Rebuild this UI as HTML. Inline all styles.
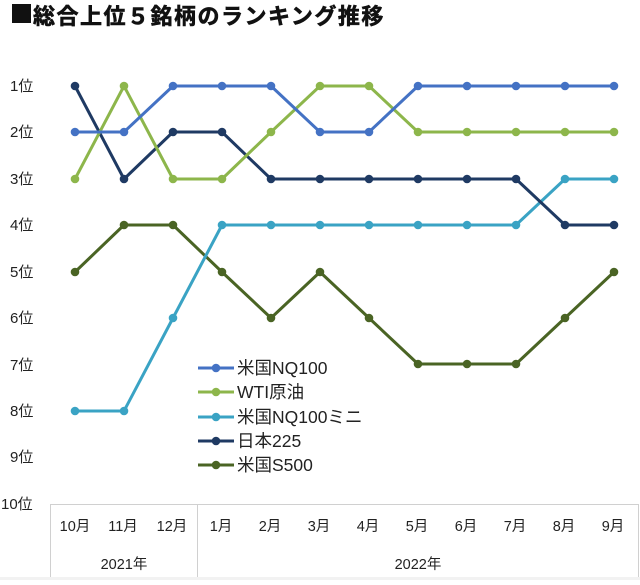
<!DOCTYPE html>
<html><head><meta charset="utf-8"><style>
body{margin:0;background:#fff;width:640px;height:580px;overflow:hidden;font-family:"Liberation Sans","Noto Sans CJK JP",sans-serif}
</style></head><body>
<svg width="640" height="580" xmlns="http://www.w3.org/2000/svg" font-family="Liberation Sans, Noto Sans CJK JP, sans-serif">
<defs>
<marker id="m1" markerWidth="10" markerHeight="10" refX="5" refY="5" markerUnits="userSpaceOnUse"><circle cx="5" cy="5" r="4.3" fill="#4472C4"/></marker>
<marker id="m2" markerWidth="10" markerHeight="10" refX="5" refY="5" markerUnits="userSpaceOnUse"><circle cx="5" cy="5" r="4.3" fill="#8DB64B"/></marker>
<marker id="m3" markerWidth="10" markerHeight="10" refX="5" refY="5" markerUnits="userSpaceOnUse"><circle cx="5" cy="5" r="4.3" fill="#3AA3C4"/></marker>
<marker id="m4" markerWidth="10" markerHeight="10" refX="5" refY="5" markerUnits="userSpaceOnUse"><circle cx="5" cy="5" r="4.3" fill="#1F3A63"/></marker>
<marker id="m5" markerWidth="10" markerHeight="10" refX="5" refY="5" markerUnits="userSpaceOnUse"><circle cx="5" cy="5" r="4.3" fill="#4A6424"/></marker>
</defs>
<rect x="0" y="577" width="640" height="3" fill="#f2f2f2"/>
<rect x="12" y="4" width="19" height="19" fill="#111"/>
<text x="33" y="24" font-size="22" font-weight="bold" fill="#111" stroke="#111" stroke-width="0.6" letter-spacing="1.5">総合上位５銘柄のランキング推移</text>
<g font-size="15" fill="#222">
<text x="10" y="91">1位</text><text x="10" y="137">2位</text><text x="10" y="184">3位</text><text x="10" y="230">4位</text><text x="10" y="277">5位</text><text x="10" y="323">6位</text><text x="10" y="370">7位</text><text x="10" y="416">8位</text><text x="10" y="462">9位</text><text x="1" y="509">10位</text>
</g>
<g fill="none" stroke="#d0d0d0" stroke-width="1">
<path d="M50.5 577V504.5H638.5V577M197.5 504.5V577"/>
</g>
<g font-size="14.5" fill="#222" text-anchor="middle">
<text x="75" y="531">10月</text><text x="123" y="531">11月</text><text x="172" y="531">12月</text><text x="221" y="531">1月</text><text x="270" y="531">2月</text><text x="319" y="531">3月</text><text x="368" y="531">4月</text><text x="417" y="531">5月</text><text x="466" y="531">6月</text><text x="515" y="531">7月</text><text x="564" y="531">8月</text><text x="613" y="531">9月</text>
<text x="124" y="569">2021年</text><text x="418" y="569">2022年</text>
</g>
<g fill="none" stroke-width="3" stroke-linejoin="round">
<polyline stroke="#4A6424" marker-start="url(#m5)" marker-mid="url(#m5)" marker-end="url(#m5)" points="75,272 124,225 173,225 222,272 271,318 320,272 369,318 418,364 467,364 516,364 565,318 614,272"/>
<polyline stroke="#3AA3C4" marker-start="url(#m3)" marker-mid="url(#m3)" marker-end="url(#m3)" points="75,411 124,411 173,318 222,225 271,225 320,225 369,225 418,225 467,225 516,225 565,179 614,179"/>
<polyline stroke="#1F3A63" marker-start="url(#m4)" marker-mid="url(#m4)" marker-end="url(#m4)" points="75,86 124,179 173,132 222,132 271,179 320,179 369,179 418,179 467,179 516,179 565,225 614,225"/>
<polyline stroke="#8DB64B" marker-start="url(#m2)" marker-mid="url(#m2)" marker-end="url(#m2)" points="75,179 124,86 173,179 222,179 271,132 320,86 369,86 418,132 467,132 516,132 565,132 614,132"/>
<polyline stroke="#4472C4" marker-start="url(#m1)" marker-mid="url(#m1)" marker-end="url(#m1)" points="75,132 124,132 173,86 222,86 271,86 320,132 369,132 418,86 467,86 516,86 565,86 614,86"/>
</g>
<g stroke-width="3">
<line x1="198" y1="368" x2="234" y2="368" stroke="#4472C4"/><circle cx="216" cy="368" r="4.3" fill="#4472C4"/>
<line x1="198" y1="392" x2="234" y2="392" stroke="#8DB64B"/><circle cx="216" cy="392" r="4.3" fill="#8DB64B"/>
<line x1="198" y1="417" x2="234" y2="417" stroke="#3AA3C4"/><circle cx="216" cy="417" r="4.3" fill="#3AA3C4"/>
<line x1="198" y1="441" x2="234" y2="441" stroke="#1F3A63"/><circle cx="216" cy="441" r="4.3" fill="#1F3A63"/>
<line x1="198" y1="465" x2="234" y2="465" stroke="#4A6424"/><circle cx="216" cy="465" r="4.3" fill="#4A6424"/>
</g>
<g font-size="17.5" fill="#222">
<text x="237" y="374">米国NQ100</text>
<text x="237" y="398">WTI原油</text>
<text x="237" y="423">米国NQ100ミニ</text>
<text x="237" y="447">日本225</text>
<text x="237" y="471">米国S500</text>
</g>
</svg>
</body></html>
